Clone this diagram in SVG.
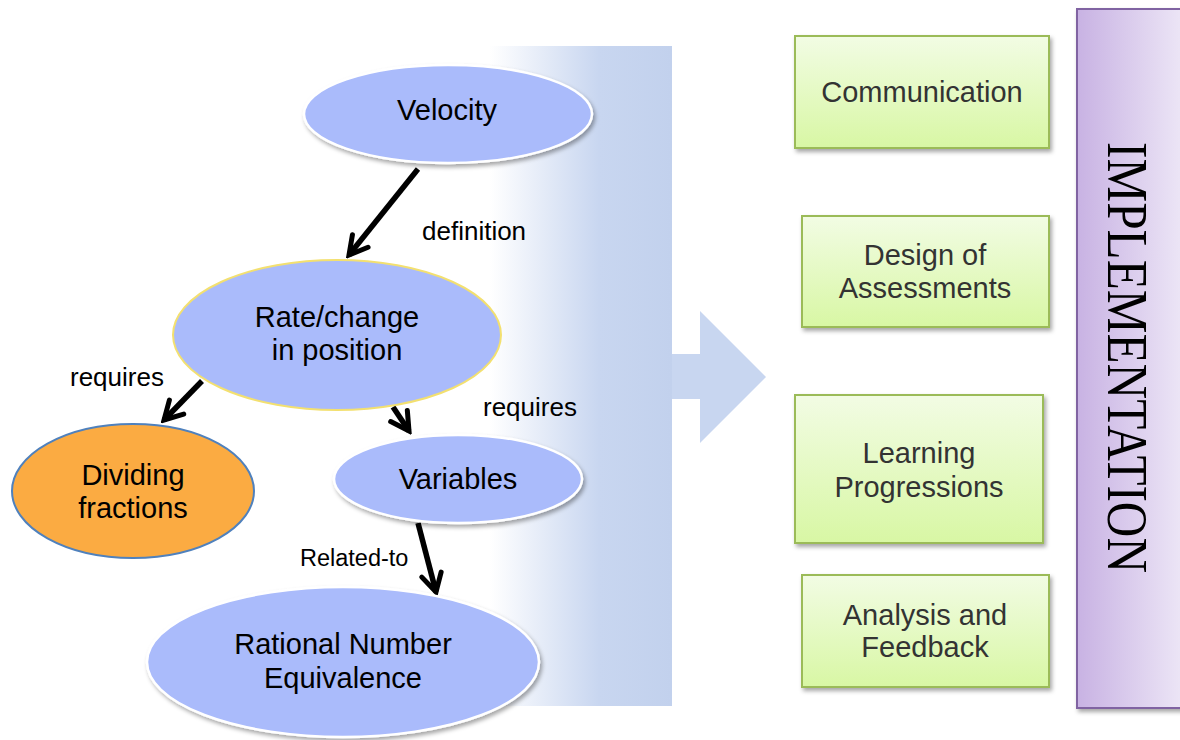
<svg xmlns="http://www.w3.org/2000/svg" width="1180" height="740" viewBox="0 0 1180 740">
<defs>
<style>
.node{font-family:"Liberation Sans",Arial,sans-serif;font-size:29px;fill:#000;text-anchor:middle}
.box{font-family:"Liberation Sans",Arial,sans-serif;font-size:29px;fill:#333;text-anchor:middle}
.lbl{font-family:"Liberation Sans",Arial,sans-serif;font-size:26px;fill:#000}
.blue{fill:#aabbfb;stroke:#fff;stroke-width:2.5}
.gbox{fill:url(#gGreen);stroke:#9bbb59;stroke-width:2}
.conn{stroke:#000;stroke-width:5.5;fill:none;marker-end:url(#chev)}
</style>
<linearGradient id="gPanel" x1="490" y1="0" x2="672" y2="0" gradientUnits="userSpaceOnUse">
<stop offset="0" stop-color="#ffffff"/>
<stop offset="0.6" stop-color="#c8d6f0"/>
<stop offset="1" stop-color="#c2d1ed"/>
</linearGradient>
<linearGradient id="gGreen" x1="0" y1="0" x2="0" y2="1">
<stop offset="0" stop-color="#f2fce4"/>
<stop offset="1" stop-color="#d8f7a4"/>
</linearGradient>
<linearGradient id="gPurple" x1="0" y1="0" x2="1" y2="0">
<stop offset="0" stop-color="#c8b2e3"/>
<stop offset="1" stop-color="#eee8f7"/>
</linearGradient>
<filter id="sh" x="-10%" y="-10%" width="125%" height="130%">
<feDropShadow dx="2" dy="3" stdDeviation="2" flood-color="#000" flood-opacity="0.35"/>
</filter>
<marker id="chev" viewBox="0 0 26 26" refX="22" refY="13" markerWidth="26" markerHeight="26" markerUnits="userSpaceOnUse" orient="auto">
<path d="M4,3 L22,13 L4,23" fill="none" stroke="#000" stroke-width="5" stroke-linecap="round" stroke-linejoin="miter"/>
</marker>
</defs>
<rect width="1180" height="740" fill="#fff"/>

<g id="panel">
<rect x="488" y="46" width="184" height="660" fill="url(#gPanel)"/>
<polygon points="672,354 700,354 700,311 766,377 700,443 700,399 672,399" fill="#c8d6f0"/>
</g>

<g id="connectors">
<line class="conn" x1="418" y1="169" x2="349" y2="255"/>
<line class="conn" x1="202" y1="381" x2="164" y2="420"/>
<line class="conn" x1="393" y1="407" x2="409" y2="431"/>
<line class="conn" x1="418" y1="523" x2="436" y2="592"/>
<text class="lbl" x="422" y="240">definition</text>
<text class="lbl" x="70" y="386">requires</text>
<text class="lbl" x="483" y="416">requires</text>
<text class="lbl" x="300" y="566" style="font-size:23.5px">Related-to</text>
</g>

<g id="velocity">
<ellipse class="blue" cx="448" cy="114" rx="144" ry="49" filter="url(#sh)"/>
<text class="node" x="447" y="120">Velocity</text>
</g>

<g id="rate">
<ellipse cx="337" cy="335" rx="164" ry="75" fill="#aabbfb" stroke="#f3e070" stroke-width="2"/>
<text class="node" x="337" y="327">Rate/change</text>
<text class="node" x="337" y="360">in position</text>
</g>

<g id="dividing">
<ellipse cx="133" cy="491" rx="121" ry="67" fill="#fbab42" stroke="#4f81bd" stroke-width="2"/>
<text class="node" x="133" y="485">Dividing</text>
<text class="node" x="133" y="518">fractions</text>
</g>

<g id="variables">
<ellipse class="blue" cx="458" cy="479" rx="124" ry="44" filter="url(#sh)"/>
<text class="node" x="458" y="489">Variables</text>
</g>

<g id="rational">
<ellipse class="blue" cx="343" cy="662" rx="196" ry="75" filter="url(#sh)"/>
<text class="node" x="343" y="654">Rational Number</text>
<text class="node" x="343" y="688">Equivalence</text>
</g>

<g id="communication">
<rect class="gbox" x="795" y="36" width="254" height="112" filter="url(#sh)"/>
<text class="box" x="922" y="102">Communication</text>
</g>

<g id="design">
<rect class="gbox" x="802" y="216" width="247" height="111" filter="url(#sh)"/>
<text class="box" x="925" y="265">Design of</text>
<text class="box" x="925" y="298">Assessments</text>
</g>

<g id="learning">
<rect class="gbox" x="795" y="395" width="248" height="148" filter="url(#sh)"/>
<text class="box" x="919" y="463">Learning</text>
<text class="box" x="919" y="497">Progressions</text>
</g>

<g id="analysis">
<rect class="gbox" x="802" y="575" width="247" height="112" filter="url(#sh)"/>
<text class="box" x="925" y="625">Analysis and</text>
<text class="box" x="925" y="657">Feedback</text>
</g>

<g id="implementation">
<rect x="1077" y="9" width="110" height="699" fill="url(#gPurple)" stroke="#8064a2" stroke-width="2" filter="url(#sh)"/>
<text transform="translate(1108,142) rotate(90)" x="0" y="0" font-family="'Liberation Serif','Times New Roman',serif" font-size="58" fill="#000" textLength="431" lengthAdjust="spacingAndGlyphs">IMPLEMENTATION</text>
</g>
</svg>
